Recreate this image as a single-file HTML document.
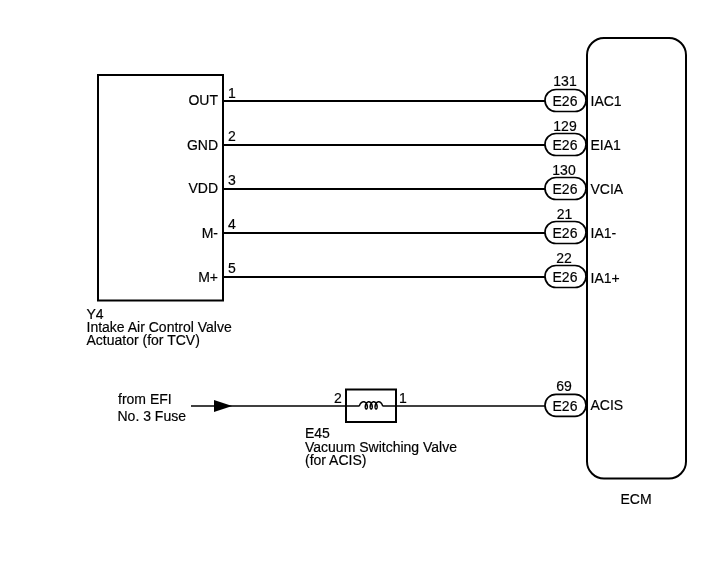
<!DOCTYPE html>
<html><head><meta charset="utf-8">
<style>
html,body{margin:0;padding:0;background:#fff;}
body{width:713px;height:581px;overflow:hidden;}
svg{display:block;will-change:transform;}
text{font-family:"Liberation Sans",sans-serif;font-size:14px;fill:#000;stroke:#000;stroke-width:0.18px;}
</style></head>
<body>
<svg width="713" height="581" viewBox="0 0 713 581">
<g fill="none" stroke="#000" stroke-width="2">
  <rect x="98" y="75" width="125" height="225.5"/>
  <line x1="223" y1="101" x2="545" y2="101" stroke-width="1.8"/>
  <line x1="223" y1="145" x2="545" y2="145" stroke-width="1.8"/>
  <line x1="223" y1="189" x2="545" y2="189" stroke-width="1.8"/>
  <line x1="223" y1="233" x2="545" y2="233" stroke-width="1.8"/>
  <line x1="223" y1="277" x2="545" y2="277" stroke-width="1.8"/>
  <rect x="587" y="38" width="99" height="440.5" rx="17" ry="17"/>
  <rect x="545" y="89.5" width="41" height="22" rx="11" ry="11" stroke-width="1.7"/>
  <rect x="545" y="133.5" width="41" height="22" rx="11" ry="11" stroke-width="1.7"/>
  <rect x="545" y="177.5" width="41" height="22" rx="11" ry="11" stroke-width="1.7"/>
  <rect x="545" y="221.5" width="41" height="22" rx="11" ry="11" stroke-width="1.7"/>
  <rect x="545" y="265.5" width="41" height="22" rx="11" ry="11" stroke-width="1.7"/>
  <rect x="545" y="394.3" width="41" height="22" rx="11" ry="11" stroke-width="1.7"/>
  <line x1="191" y1="406" x2="359.5" y2="406" stroke-width="1.7"/>
  <line x1="382.5" y1="406" x2="545" y2="406" stroke-width="1.7"/>
  <rect x="346" y="389.5" width="50" height="32.5"/>
  <path d="M359.3 406 Q360.6 401.80 363.85 401.80 L364.21 401.83 L364.57 401.91 L364.92 402.05 L365.25 402.25 L365.57 402.49 L365.88 402.78 L366.15 403.11 L366.41 403.47 L366.63 403.87 L366.83 404.29 L366.99 404.73 L367.12 405.17 L367.22 405.63 L367.29 406.07 L367.32 406.51 L367.32 406.93 L367.29 407.33 L367.23 407.69 L367.15 408.02 L367.05 408.31 L366.92 408.55 L366.78 408.75 L366.63 408.89 L366.47 408.97 L366.30 409.00 L366.14 408.97 L365.97 408.89 L365.82 408.75 L365.68 408.55 L365.56 408.31 L365.45 408.02 L365.37 407.69 L365.31 407.33 L365.28 406.93 L365.28 406.51 L365.32 406.07 L365.38 405.63 L365.48 405.17 L365.61 404.73 L365.77 404.29 L365.97 403.87 L366.19 403.47 L366.45 403.11 L366.73 402.78 L367.03 402.49 L367.35 402.25 L367.68 402.05 L368.03 401.91 L368.39 401.83 L368.75 401.80 L369.11 401.83 L369.47 401.91 L369.82 402.05 L370.16 402.25 L370.48 402.49 L370.78 402.78 L371.06 403.11 L371.31 403.47 L371.53 403.87 L371.73 404.29 L371.89 404.73 L372.02 405.17 L372.12 405.63 L372.19 406.07 L372.22 406.51 L372.22 406.93 L372.19 407.33 L372.13 407.69 L372.05 408.02 L371.95 408.31 L371.82 408.55 L371.68 408.75 L371.53 408.89 L371.37 408.97 L371.20 409.00 L371.04 408.97 L370.88 408.89 L370.72 408.75 L370.58 408.55 L370.46 408.31 L370.35 408.02 L370.27 407.69 L370.21 407.33 L370.18 406.93 L370.18 406.51 L370.22 406.07 L370.28 405.63 L370.38 405.17 L370.51 404.73 L370.67 404.29 L370.87 403.87 L371.09 403.47 L371.35 403.11 L371.63 402.78 L371.93 402.49 L372.25 402.25 L372.59 402.05 L372.93 401.91 L373.29 401.83 L373.65 401.80 L374.01 401.83 L374.37 401.91 L374.72 402.05 L375.06 402.25 L375.38 402.49 L375.68 402.78 L375.96 403.11 L376.21 403.47 L376.43 403.87 L376.63 404.29 L376.79 404.73 L376.92 405.17 L377.02 405.63 L377.09 406.07 L377.12 406.51 L377.12 406.93 L377.09 407.33 L377.03 407.69 L376.95 408.02 L376.85 408.31 L376.72 408.55 L376.58 408.75 L376.43 408.89 L376.27 408.97 L376.10 409.00 L375.94 408.97 L375.78 408.89 L375.62 408.75 L375.48 408.55 L375.36 408.31 L375.25 408.02 L375.17 407.69 L375.11 407.33 L375.08 406.93 L375.09 406.51 L375.12 406.07 L375.18 405.63 L375.28 405.17 L375.41 404.73 L375.58 404.29 L375.77 403.87 L376.00 403.47 L376.25 403.11 L376.53 402.78 L376.83 402.49 L377.15 402.25 L377.49 402.05 L377.83 401.91 L378.19 401.83 L378.55 401.80 Q381.4 401.80 382.7 406" stroke-width="1.5"/>
</g>
<polygon points="214,400 232.2,406 214,412" fill="#000"/>

<g text-anchor="end">
<text x="218" y="105">OUT</text>
<text x="218" y="150">GND</text>
<text x="218" y="193">VDD</text>
<text x="218" y="238">M-</text>
<text x="218" y="282">M+</text>
</g>

<text x="228" y="98">1</text>
<text x="228" y="141">2</text>
<text x="228" y="185">3</text>
<text x="228" y="229">4</text>
<text x="228" y="273">5</text>

<g text-anchor="middle">
<text x="565" y="86">131</text>
<text x="565" y="131">129</text>
<text x="564" y="175">130</text>
<text x="564.5" y="219">21</text>
<text x="564" y="263">22</text>
<text x="564" y="391">69</text>
<text x="565" y="106">E26</text>
<text x="565" y="150">E26</text>
<text x="565" y="194">E26</text>
<text x="565" y="238">E26</text>
<text x="565" y="282">E26</text>
<text x="565" y="410.5">E26</text>
<text x="636" y="504">ECM</text>
</g>

<text x="590.5" y="106">IAC1</text>
<text x="590.5" y="150">EIA1</text>
<text x="590.5" y="194">VCIA</text>
<text x="590.5" y="238">IA1-</text>
<text x="590.5" y="283">IA1+</text>
<text x="590.5" y="410">ACIS</text>

<text x="86.5" y="318.5">Y4</text>
<text x="86.5" y="331.5">Intake Air Control Valve</text>
<text x="86.5" y="344.5">Actuator (for TCV)</text>

<text x="118" y="404">from EFI</text>
<text x="117.5" y="421">No. 3 Fuse</text>

<text x="334" y="403">2</text>
<text x="399" y="403">1</text>

<text x="305" y="438">E45</text>
<text x="305" y="452">Vacuum Switching Valve</text>
<text x="305" y="464.5">(for ACIS)</text>
</svg>
</body></html>
